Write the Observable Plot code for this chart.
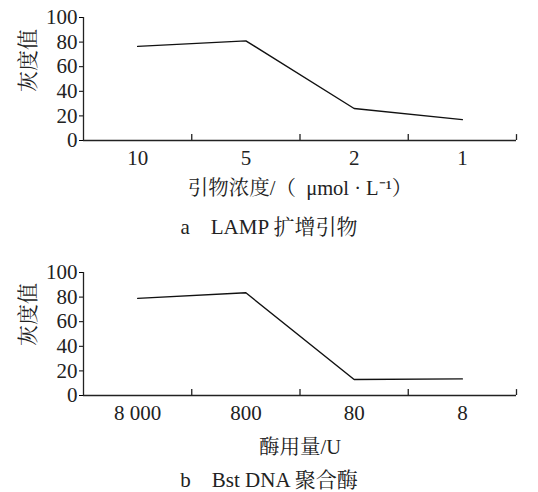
<!DOCTYPE html>
<html>
<head>
<meta charset="utf-8">
<script src="https://cdn.jsdelivr.net/npm/d3@7"></script>
<script src="https://cdn.jsdelivr.net/npm/@observablehq/plot@0.6"></script>
</head>
<body style="margin:0;background:#fff;width:538px;overflow:hidden">
<div id="a"></div>
<div id="capA" style="width:538px;height:40px;line-height:34px;text-align:center;font-family:'Liberation Serif','Noto Serif CJK SC',serif;font-size:21px;color:#222;white-space:pre"></div>
<div id="b"></div>
<div id="capB" style="width:538px;height:32px;line-height:40px;text-align:center;font-family:'Liberation Serif','Noto Serif CJK SC',serif;font-size:21px;color:#222;white-space:pre"></div>
<script>
const primerLabels = ["10", "5", "2", "1"];
const primerValues = [76.5, 81, 26, 17];
const enzymeLabels = ["8 000", "800", "80", "8"];
const enzymeValues = [79, 83.5, 13, 13.5];
const yTicks = [0, 20, 40, 60, 80, 100];
const yLabel = "灰度值";
const xLabelA = "引物浓度/（  μmol · L⁻¹）";
const xLabelB = "酶用量/U";
const captionA = "a    LAMP 扩增引物";
const captionB = "b    Bst DNA 聚合酶";

const FONT = "Liberation Serif, Noto Serif CJK SC, serif";

function panel(labels, values, xLabel, opts) {
  const data = labels.map((l, i) => ({i, label: l, value: values[i]}));
  const idx = labels.map((_, i) => i);
  const bounds = labels.map((_, i) => i + 0.5);
  const svg = Plot.plot({
    width: 538,
    height: opts.height,
    marginTop: opts.marginTop,
    marginBottom: opts.marginBottom,
    marginLeft: 83,
    marginRight: 22,
    x: {type: "linear", domain: [-0.5, labels.length - 0.5]},
    y: {domain: [0, 100]},
    marks: [
      Plot.axisY({ticks: yTicks, tickSize: 4, tickPadding: 2, fontSize: 21, fontFamily: FONT, fill: "#222", label: null}),
      Plot.axisX({ticks: idx, tickFormat: i => labels[i], tickSize: 0, tickPadding: 10, fontSize: 21, fontFamily: FONT, fill: "#222", label: null}),
      Plot.ruleX([-0.5], {y1: 0, y2: 100, stroke: "#222", strokeWidth: 1.3}),
      Plot.ruleY([0], {stroke: "#222", strokeWidth: 1.3}),
      Plot.ruleX(bounds, {y1: 0, y2: 4.8, stroke: "#222", strokeWidth: 1.3}),
      Plot.line(data, {x: "i", y: "value", stroke: "#111", strokeWidth: 1.4}),
      Plot.text([yLabel], {frameAnchor: "left", dx: -55, dy: opts.yLabelDy, rotate: -90, fontSize: 21, fontFamily: FONT, fill: "#222"}),
      Plot.text([xLabel], {frameAnchor: "bottom", dy: opts.xLabelDy, fontSize: 20.5, fontFamily: FONT, fill: "#222"})
    ]
  });
  svg.querySelectorAll("text").forEach(t => t.setAttribute("font-family", FONT));
  return svg;
}

document.getElementById("a").append(panel(primerLabels, primerValues, xLabelA,
  {height: 210, marginTop: 17, marginBottom: 70, yLabelDy: 13, xLabelDy: 54}));
document.getElementById("b").append(panel(enzymeLabels, enzymeValues, xLabelB,
  {height: 210, marginTop: 22, marginBottom: 65, yLabelDy: 12, xLabelDy: 58}));
document.getElementById("capA").textContent = captionA;
document.getElementById("capB").textContent = captionB;
</script>
</body>
</html>
